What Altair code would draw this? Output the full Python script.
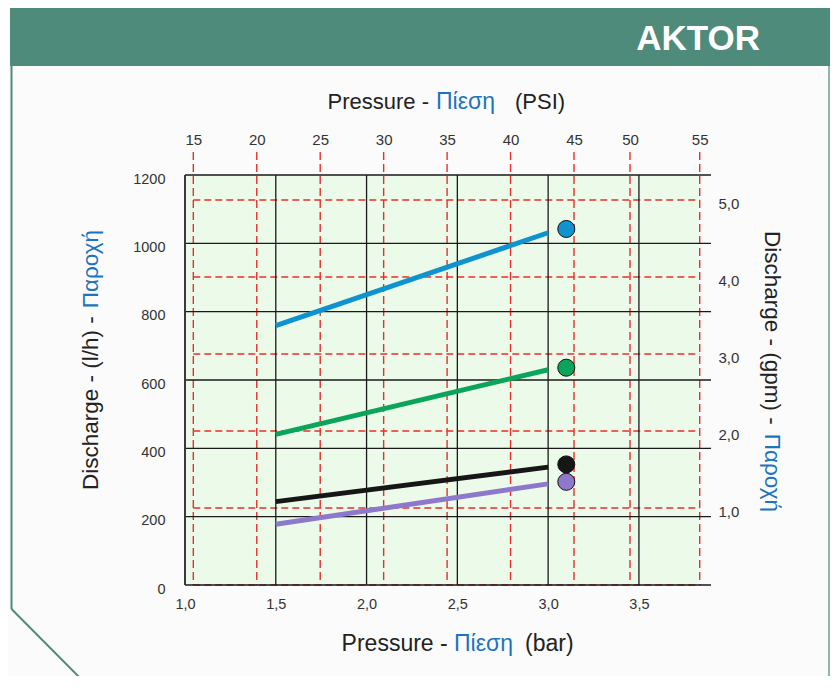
import altair as alt
import pandas as pd

# ---------------- data ----------------
series = ["blue", "green", "black", "purple"]
colors = ["#0e93cf", "#0aa55a", "#161616", "#8e78cc"]
bar_start = [1.5, 1.5, 1.5, 1.5]
bar_end = [3.0, 3.0, 3.0, 3.0]
lph_start = [759, 441, 244, 178]
lph_end = [1031, 630, 345, 296]
point_bar = [3.1, 3.1, 3.1, 3.1]
point_lph = [1042, 636, 353, 302]

bar_ticks = [1.0, 1.5, 2.0, 2.5, 3.0, 3.5]
bar_grid = [1.5, 2.0, 2.5, 3.0, 3.5]
lph_ticks = [0, 200, 400, 600, 800, 1000, 1200]
psi_ticks = [15, 20, 25, 30, 35, 40, 45, 50, 55]
gpm_ticks = [1, 2, 3, 4, 5]
gpm_lines = [0, 1, 2, 3, 4, 5]

BAR_DOMAIN = [1.0, 3.897]
BAR_GREEN_END = 3.83
LPH_DOMAIN = [0, 1200]
# the printed PSI grid is not perfectly linear (50 sits a bit left): piecewise scale
PSI_DOMAIN = [14.345, 45, 50, 55.81]
GPM_DOMAIN = [0, 5.325]

W, H = 526, 410
PSI_RANGE = [0, 389, 445, W]
FONT = "Liberation Sans"
TEAL = "#4f8b7a"
BLUE_TXT = "#1b74bd"
DARK = "#222222"

xbar = alt.Scale(domain=BAR_DOMAIN, nice=False, zero=False)
ylph = alt.Scale(domain=LPH_DOMAIN, nice=False, zero=False)
xpsi = alt.Scale(domain=PSI_DOMAIN, range=PSI_RANGE, nice=False, zero=False)
ygpm = alt.Scale(domain=GPM_DOMAIN, nice=False, zero=False)

comma_expr = "replace(format(datum.value,'.1f'),'.',',')"
lab = dict(labelFont=FONT, labelColor="#333333", labelFlush=False,
           domain=False, ticks=False, tickSize=0, grid=False, title=None)

bottom_axis = alt.Axis(orient="bottom", values=bar_ticks, labelExpr=comma_expr,
                       labelPadding=12, labelFontSize=14.5, **lab)
left_axis = alt.Axis(orient="left", values=lph_ticks, format="d",
                     labelPadding=20, labelOffset=4, labelFontSize=14.5, **lab)
top_axis = alt.Axis(orient="top", values=psi_ticks, format="d",
                    labelPadding=28, labelFontSize=15, **lab)
right_axis = alt.Axis(orient="right", values=gpm_ticks, labelExpr=comma_expr,
                      labelPadding=7, labelOffset=3, labelFontSize=15, **lab)

# ---------------- layers ----------------
bg = alt.Chart(pd.DataFrame({"x": [BAR_DOMAIN[0]], "x2": [BAR_GREEN_END],
                             "y": [LPH_DOMAIN[0]], "y2": [LPH_DOMAIN[1]]})).mark_rect(
    color="#ecfaea").encode(
    x=alt.X("x:Q", scale=xbar, axis=bottom_axis), x2="x2:Q",
    y=alt.Y("y:Q", scale=ylph, axis=left_axis), y2="y2:Q")

red_v = alt.Chart(pd.DataFrame({"psi": psi_ticks})).mark_rule(
    color="#e8302a", strokeWidth=1.4, strokeDash=[8, 4]).encode(
    x=alt.X("psi:Q", scale=xpsi, axis=top_axis),
    y=alt.value(-23), y2=alt.value(H))

red_h = alt.Chart(pd.DataFrame({"gpm": gpm_lines,
                                "p1": [psi_ticks[0]] * len(gpm_lines),
                                "p2": [psi_ticks[-1]] * len(gpm_lines)})).mark_rule(
    color="#e8302a", strokeWidth=1.4, strokeDash=[7, 4]).encode(
    y=alt.Y("gpm:Q", scale=ygpm, axis=right_axis),
    x=alt.X("p1:Q", scale=xpsi, axis=None), x2="p2:Q")

black_v = alt.Chart(pd.DataFrame({"bar": bar_grid,
                                  "y1": [LPH_DOMAIN[0]] * len(bar_grid),
                                  "y2": [LPH_DOMAIN[1]] * len(bar_grid)})).mark_rule(
    color="#1a1a1a", strokeWidth=1.3).encode(
    x=alt.X("bar:Q", scale=xbar, axis=None),
    y=alt.Y("y1:Q", scale=ylph, axis=None), y2="y2:Q")

black_h = alt.Chart(pd.DataFrame({"lph": lph_ticks,
                                  "x1": [BAR_DOMAIN[0]] * len(lph_ticks),
                                  "x2": [BAR_DOMAIN[1]] * len(lph_ticks)})).mark_rule(
    color="#1a1a1a", strokeWidth=1.3).encode(
    y=alt.Y("lph:Q", scale=ylph, axis=None),
    x=alt.X("x1:Q", scale=xbar, axis=None), x2="x2:Q")

left_line = alt.Chart(pd.DataFrame({"bar": [BAR_DOMAIN[0]], "y1": [LPH_DOMAIN[0]],
                                    "y2": [LPH_DOMAIN[1]]})).mark_rule(
    color="#3a3a3a", strokeWidth=2).encode(
    x=alt.X("bar:Q", scale=xbar, axis=None),
    y=alt.Y("y1:Q", scale=ylph, axis=None), y2="y2:Q")

rows = []
for s, b0, b1, l0, l1 in zip(series, bar_start, bar_end, lph_start, lph_end):
    rows.append({"series": s, "bar": b0, "lph": l0})
    rows.append({"series": s, "bar": b1, "lph": l1})
lines_df = pd.DataFrame(rows)
cscale = alt.Scale(domain=series, range=colors)

lines = alt.Chart(lines_df).mark_line(strokeWidth=5, strokeCap="butt").encode(
    x=alt.X("bar:Q", scale=xbar, axis=None),
    y=alt.Y("lph:Q", scale=ylph, axis=None),
    color=alt.Color("series:N", scale=cscale, legend=None),
    detail="series:N")

pts = alt.Chart(pd.DataFrame({"series": series, "bar": point_bar, "lph": point_lph})).mark_circle(
    size=290, opacity=1, stroke="#111111", strokeWidth=1).encode(
    x=alt.X("bar:Q", scale=xbar, axis=None),
    y=alt.Y("lph:Q", scale=ylph, axis=None),
    color=alt.Color("series:N", scale=cscale, legend=None))

# ---------------- frame / header / titles ----------------
one = pd.DataFrame({"a": [0]})

header = alt.Chart(one).mark_rect(color=TEAL).encode(
    x=alt.value(-175), x2=alt.value(645), y=alt.value(-167), y2=alt.value(-109))
frame_l = alt.Chart(one).mark_rule(color=TEAL, strokeWidth=2).encode(
    x=alt.value(-173.5), y=alt.value(-109), y2=alt.value(434))
frame_d = alt.Chart(one).mark_rule(color=TEAL, strokeWidth=2).encode(
    x=alt.value(-173.5), y=alt.value(434), x2=alt.value(-90), y2=alt.value(518))
frame_r = alt.Chart(one).mark_rule(color="#6c9e90", strokeWidth=1.5).encode(
    x=alt.value(644), y=alt.value(-109), y2=alt.value(520))

brand = alt.Chart(one).mark_text(text="AKTOR", font=FONT, fontWeight="bold", fontSize=35,
                                 color="white", align="right", baseline="alphabetic").encode(
    x=alt.value(575), y=alt.value(-125.5))


def txt(text, x, y, color, align, angle=0, size=22.5):
    return alt.Chart(one).mark_text(text=text, font=FONT, fontSize=size, color=color,
                                    align=align, baseline="alphabetic", angle=angle).encode(
        x=alt.value(x), y=alt.value(y))


titles = [
    # top
    txt("Pressure -", 244, -66.5, DARK, "right", size=22),
    txt("Πίεση", 251, -66.5, BLUE_TXT, "left", size=23),
    txt("(PSI)", 330, -66.5, DARK, "left", size=22),
    # bottom
    txt("Pressure -", 262.7, 476, DARK, "right", size=23),
    txt("Πίεση", 269, 476, BLUE_TXT, "left", size=23),
    txt("(bar)", 340, 476, DARK, "left", size=23),
    # left
    txt("Discharge - (l/h) -", -86.7, 315, DARK, "left", angle=270),
    txt("Παροχή", -86.7, 55, BLUE_TXT, "right", angle=270),
    # right
    txt("Discharge - (gpm) -", 580, 56, DARK, "left", angle=90),
    txt("Παροχή", 580, 337, BLUE_TXT, "right", angle=90),
]

chart = alt.layer(
    header, frame_l, frame_d, frame_r, brand,
    bg, red_v, red_h, black_v, black_h, left_line, lines, pts,
    *titles
).resolve_scale(x="independent", y="independent", color="shared").properties(
    width=W, height=H,
    autosize=alt.AutoSizeParams(type="none"),
    padding={"left": 177, "top": 167, "right": 119, "bottom": 91},
    background="#fbfbfb",
).configure_view(stroke=None)

chart.save("out.html", embed_options={"renderer": "svg", "actions": False})
